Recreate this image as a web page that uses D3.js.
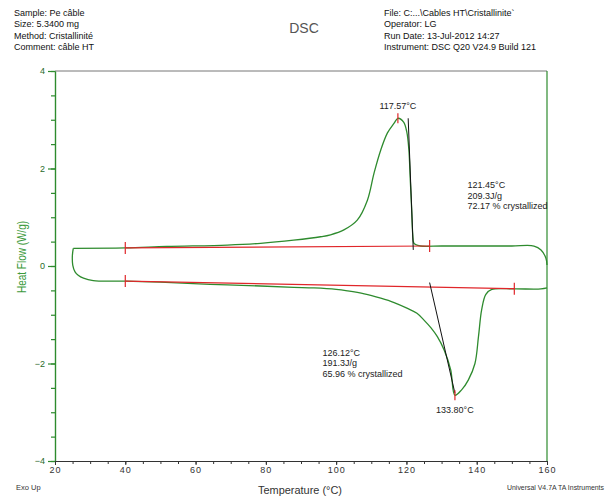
<!DOCTYPE html>
<html>
<head>
<meta charset="utf-8">
<script src="https://cdn.jsdelivr.net/npm/d3@7"></script>
<style>
  body { margin: 0; background: #fff; }
  text { font-family: "Liberation Sans", Arial, sans-serif; }
</style>
</head>
<body>
<script>
// heating run (lower curve, melting endotherm)
var heatTemp = [25.2, 24.95, 25.05, 25.7, 26.6, 28.1, 30.9, 40, 49.9, 64.2, 78.5, 87.9, 93.7, 100, 103.2, 108,
    112.7, 116.5, 120.3, 123, 125.0, 127, 128.8, 130.7, 132.6, 133.8, 135.7, 137.6, 139.5, 140.5, 141.4,
    142.6, 144.3, 150.7, 158.3, 160];
var heatFlow = [0.363, 0.22, 0.02, -0.12, -0.19, -0.25, -0.30, -0.31, -0.33, -0.375, -0.41, -0.437, -0.45, -0.48,
    -0.51, -0.57, -0.66, -0.75, -0.87, -0.97, -1.11, -1.27, -1.45, -1.72, -2.13, -2.65, -2.54, -2.34, -2.0,
    -1.45, -0.90, -0.58, -0.48, -0.47, -0.47, -0.45];

// cooling run (upper curve, crystallization exotherm)
var coolTemp = [160, 159.7, 158.3, 156.3, 150, 140, 130, 124, 122.6, 122.1, 121.8, 121.5, 121.1, 120.7, 120.1,
    119.2, 117.57, 116.5, 114.6, 112.7, 110.8, 108.9, 106.0, 102.2, 98.4, 95.6, 87.9, 78.5, 69.0, 51.8, 40, 25.2];
var coolFlow = [0.02, 0.16, 0.33, 0.41, 0.41, 0.41, 0.41, 0.41, 0.44, 0.47, 0.64, 1.15, 1.76, 2.38, 2.75,
    2.95, 3.03, 2.93, 2.73, 2.38, 1.91, 1.35, 0.94, 0.74, 0.64, 0.60, 0.53, 0.466, 0.43, 0.40, 0.37, 0.363];

// integration baselines and onset tangents
var baseUpperTemp = [40, 126.6], baseUpperFlow = [0.37, 0.41];
var baseLowerTemp = [40, 150.7], baseLowerFlow = [-0.31, -0.465];
var tanUpperTemp = [120.5, 121.95], tanUpperFlow = [3.03, 0.33];
var tanLowerTemp = [126.6, 133.8], tanLowerFlow = [-0.34, -2.61];
var peakTemp = [117.57, 133.80], peakFlow = [3.03, -2.65];

var xMajor = [20, 40, 60, 80, 100, 120, 140, 160];
var yMajor = [-4, -2, 0, 2, 4];

var headerLeft = ["Sample: Pe câble", "Size: 5.3400 mg", "Method: Cristallinité", "Comment: câble HT"];
var headerRight = ["File: C:...\\Cables HT\\Cristallinite`", "Operator: LG", "Run Date: 13-Jul-2012 14:27",
    "Instrument: DSC Q20 V24.9 Build 121"];
var noteUpper = ["121.45°C", "209.3J/g", "72.17  % crystallized"];
var noteLower = ["126.12°C", "191.3J/g", "65.96  % crystallized"];

var W = 611, H = 497;
var green = "#2e8b2e", red = "#e0262a";

var svg = d3.select("body").append("svg")
    .attr("width", W).attr("height", H)
    .style("background", "#fff");

var x = d3.scaleLinear().domain([20, 160]).range([55, 547]);
var y = d3.scaleLinear().domain([-4, 4]).range([461, 71]);

// header
svg.append("g").selectAll("text").data(headerLeft).enter().append("text")
    .attr("x", 14).attr("y", function(d, i) { return 16 + i * 11.3; })
    .attr("font-size", 9).attr("fill", "#111")
    .text(function(d) { return d; });
svg.append("g").selectAll("text").data(headerRight).enter().append("text")
    .attr("x", 384).attr("y", function(d, i) { return 16 + i * 11.3; })
    .attr("font-size", 9).attr("fill", "#111")
    .text(function(d) { return d; });
svg.append("text").attr("x", 304).attr("y", 33)
    .attr("text-anchor", "middle").attr("font-size", 14).attr("fill", "#555")
    .text("DSC");

// frame: top gray, right green
svg.append("line").attr("x1", x(20)).attr("x2", x(160)).attr("y1", y(4)).attr("y2", y(4))
    .attr("stroke", "#777");
svg.append("line").attr("x1", x(160)).attr("x2", x(160)).attr("y1", y(4)).attr("y2", y(-4))
    .attr("stroke", green).attr("stroke-width", 1.2);

// y axis
var yMinor = svg.append("g").attr("transform", "translate(" + x(20) + ",0)")
    .call(d3.axisLeft(y).tickValues(d3.range(-4, 4.01, 0.5)).tickSize(4).tickSizeOuter(0).tickFormat(""));
var yAxis = svg.append("g").attr("transform", "translate(" + x(20) + ",0)")
    .call(d3.axisLeft(y).tickValues(yMajor).tickSize(7).tickSizeOuter(0).tickPadding(3));
[yMinor, yAxis].forEach(function(g) {
    g.selectAll("path, line").attr("stroke", green).attr("stroke-width", 1.2);
});
yAxis.selectAll("text").attr("fill", "#2a6a2a").attr("font-size", 9)
    .attr("font-family", "Liberation Sans, Arial, sans-serif");

// x axis
var xMinor = svg.append("g").attr("transform", "translate(0," + y(-4) + ")")
    .call(d3.axisBottom(x).tickValues(d3.range(20, 160.1, 5)).tickSize(3).tickSizeOuter(0).tickFormat(""));
var xAxis = svg.append("g").attr("transform", "translate(0," + y(-4) + ")")
    .call(d3.axisBottom(x).tickValues(xMajor).tickSize(4).tickSizeOuter(0).tickPadding(2));
[xMinor, xAxis].forEach(function(g) {
    g.selectAll("path, line").attr("stroke", "#333");
});
xAxis.selectAll("text").attr("fill", "#333").attr("font-size", 9).attr("letter-spacing", 1)
    .attr("font-family", "Liberation Sans, Arial, sans-serif");

// axis titles
svg.append("text")
    .attr("transform", "translate(26,257) rotate(-90)")
    .attr("text-anchor", "middle").attr("font-size", 13).attr("fill", "#3c9a3c")
    .attr("textLength", 72).attr("lengthAdjust", "spacingAndGlyphs")
    .text("Heat Flow (W/g)");
svg.append("text").attr("x", 300).attr("y", 494)
    .attr("text-anchor", "middle").attr("font-size", 11).attr("fill", "#333")
    .attr("textLength", 84).attr("lengthAdjust", "spacingAndGlyphs")
    .text("Temperature (°C)");
svg.append("text").attr("x", 16).attr("y", 490)
    .attr("font-size", 7.5).attr("fill", "#333").text("Exo Up");
svg.append("text").attr("x", 604).attr("y", 490).attr("text-anchor", "end")
    .attr("font-size", 7.5).attr("fill", "#333")
    .attr("textLength", 97).attr("lengthAdjust", "spacingAndGlyphs")
    .text("Universal V4.7A TA Instruments");

// curves
var line = d3.line()
    .x(function(d) { return x(d[0]); })
    .y(function(d) { return y(d[1]); })
    .curve(d3.curveCatmullRom.alpha(0.5));
var straight = d3.line()
    .x(function(d) { return x(d[0]); })
    .y(function(d) { return y(d[1]); });

svg.append("path").datum(d3.zip(heatTemp, heatFlow))
    .attr("d", line).attr("fill", "none").attr("stroke", green).attr("stroke-width", 1.3);
svg.append("path").datum(d3.zip(coolTemp, coolFlow))
    .attr("d", line).attr("fill", "none").attr("stroke", green).attr("stroke-width", 1.3);

// baselines with end ticks
[[baseUpperTemp, baseUpperFlow], [baseLowerTemp, baseLowerFlow]].forEach(function(b) {
    var pts = d3.zip(b[0], b[1]);
    svg.append("path").datum(pts).attr("d", straight)
        .attr("fill", "none").attr("stroke", red).attr("stroke-width", 1.2);
    svg.append("g").selectAll("line").data(pts).enter().append("line")
        .attr("x1", function(d) { return x(d[0]); }).attr("x2", function(d) { return x(d[0]); })
        .attr("y1", function(d) { return y(d[1]) - 6; }).attr("y2", function(d) { return y(d[1]) + 6; })
        .attr("stroke", red).attr("stroke-width", 1.2);
});

// onset tangents
[[tanUpperTemp, tanUpperFlow], [tanLowerTemp, tanLowerFlow]].forEach(function(t) {
    svg.append("path").datum(d3.zip(t[0], t[1])).attr("d", straight)
        .attr("fill", "none").attr("stroke", "#111").attr("stroke-width", 1);
});

// peak markers and labels
var peaks = d3.zip(peakTemp, peakFlow);
svg.append("g").selectAll("line").data(peaks).enter().append("line")
    .attr("x1", function(d) { return x(d[0]); }).attr("x2", function(d) { return x(d[0]); })
    .attr("y1", function(d) { return y(d[1]) - 5; }).attr("y2", function(d) { return y(d[1]) + 5; })
    .attr("stroke", red).attr("stroke-width", 1.2);
svg.append("g").selectAll("text").data(peaks).enter().append("text")
    .attr("x", function(d) { return x(d[0]); })
    .attr("y", function(d, i) { return i === 0 ? y(d[1]) - 9 : y(d[1]) + 18; })
    .attr("text-anchor", "middle").attr("font-size", 9).attr("fill", "#222")
    .text(function(d) { return d[0].toFixed(2) + "°C"; });

// integration notes
svg.append("g").selectAll("text").data(noteUpper).enter().append("text")
    .attr("x", x(137.4)).attr("y", function(d, i) { return 188 + i * 10.7; })
    .attr("font-size", 9).attr("fill", "#222")
    .text(function(d) { return d; });
svg.append("g").selectAll("text").data(noteLower).enter().append("text")
    .attr("x", x(96.1)).attr("y", function(d, i) { return 355.5 + i * 10.7; })
    .attr("font-size", 9).attr("fill", "#222")
    .text(function(d) { return d; });
</script>
</body>
</html>
